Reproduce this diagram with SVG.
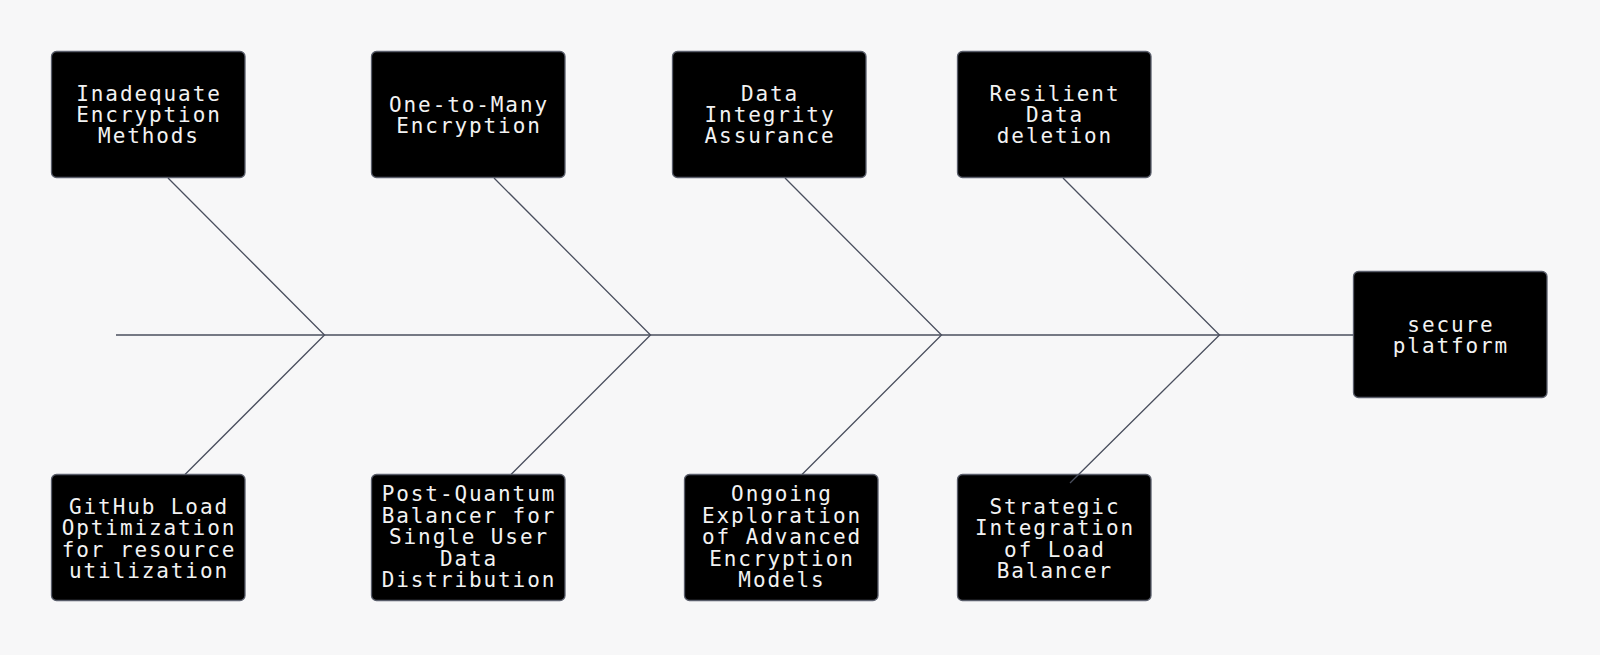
<svg xmlns="http://www.w3.org/2000/svg" width="1600" height="655" viewBox="0 0 1600 655">
<style>
.bg{fill:#f7f7f8}
.box{fill:#000000;stroke:#5a5e6b;stroke-width:1.3}
.lbl{fill:#f2f2f2;font-family:"DejaVu Sans Mono",monospace;font-size:21px;letter-spacing:1.9px;text-anchor:middle}
.ln{fill:none;stroke:#4a4f5e;stroke-width:1.3}
</style>
<rect class="bg" x="0" y="0" width="1600" height="655"/>
<g id="n1">
<rect class="box" x="51.5" y="51.5" width="193.5" height="126" rx="5"/>
<text class="lbl"><tspan x="149" y="101">Inadequate</tspan><tspan x="149" y="122">Encryption</tspan><tspan x="149" y="143">Methods</tspan></text>
</g>
<g id="n2">
<rect class="box" x="371.5" y="51.5" width="193.5" height="126" rx="5"/>
<text class="lbl"><tspan x="469" y="111.5">One-to-Many</tspan><tspan x="469" y="132.5">Encryption</tspan></text>
</g>
<g id="n3">
<rect class="box" x="672.5" y="51.5" width="193.5" height="126" rx="5"/>
<text class="lbl"><tspan x="770" y="101">Data</tspan><tspan x="770" y="122">Integrity</tspan><tspan x="770" y="143">Assurance</tspan></text>
</g>
<g id="n4">
<rect class="box" x="957.5" y="51.5" width="193.5" height="126" rx="5"/>
<text class="lbl"><tspan x="1055" y="101">Resilient</tspan><tspan x="1055" y="122">Data</tspan><tspan x="1055" y="143">deletion</tspan></text>
</g>
<g id="n5">
<rect class="box" x="51.5" y="474.5" width="193.5" height="126" rx="5"/>
<text class="lbl"><tspan x="149" y="513.5">GitHub Load</tspan><tspan x="149" y="535">Optimization</tspan><tspan x="149" y="556.5">for resource</tspan><tspan x="149" y="578">utilization</tspan></text>
</g>
<g id="n6">
<rect class="box" x="371.5" y="474.5" width="193.5" height="126" rx="5"/>
<text class="lbl"><tspan x="469" y="501">Post-Quantum</tspan><tspan x="469" y="522.5">Balancer for</tspan><tspan x="469" y="544">Single User</tspan><tspan x="469" y="565.5">Data</tspan><tspan x="469" y="587">Distribution</tspan></text>
</g>
<g id="n7">
<rect class="box" x="684.5" y="474.5" width="193.5" height="126" rx="5"/>
<text class="lbl"><tspan x="782" y="501">Ongoing</tspan><tspan x="782" y="522.5">Exploration</tspan><tspan x="782" y="544">of Advanced</tspan><tspan x="782" y="565.5">Encryption</tspan><tspan x="782" y="587">Models</tspan></text>
</g>
<g id="n8">
<rect class="box" x="957.5" y="474.5" width="193.5" height="126" rx="5"/>
<text class="lbl"><tspan x="1055" y="513.5">Strategic</tspan><tspan x="1055" y="535">Integration</tspan><tspan x="1055" y="556.5">of Load</tspan><tspan x="1055" y="578">Balancer</tspan></text>
</g>
<g id="head">
<rect class="box" x="1353.5" y="271.5" width="193.5" height="126" rx="5"/>
<text class="lbl"><tspan x="1451" y="332">secure</tspan><tspan x="1451" y="353">platform</tspan></text>
</g>
<g id="connectors">
<path class="ln" d="M116 335 H1353.5"/>
<path class="ln" d="M168 178 L324.5 335 L185 474.5"/>
<path class="ln" d="M494 178 L650.5 335 L511 474.5"/>
<path class="ln" d="M785 178 L941.5 335 L802 474.5"/>
<path class="ln" d="M1063 178 L1219.5 335 L1070 483"/>
</g>
</svg>
